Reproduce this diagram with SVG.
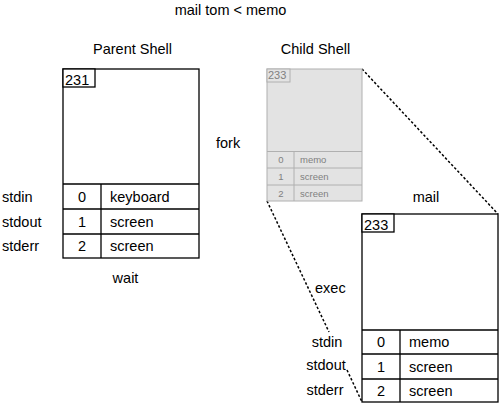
<svg xmlns="http://www.w3.org/2000/svg" width="500" height="403" viewBox="0 0 500 403">
<style>
text{font-family:"Liberation Sans",Arial,sans-serif;font-size:14.5px;fill:#000}
.m{text-anchor:middle}
.box{fill:#fff;stroke:#000;stroke-width:1.3}
.gbox{fill:#e3e3e3;stroke:#b0b0b0;stroke-width:1}
.g{font-size:9.5px;fill:#808080}
.dash{fill:none;stroke:#000;stroke-width:1.5;stroke-dasharray:2.5 2}
</style>
<rect width="500" height="403" fill="#fff"/>
<text class="m" x="230.5" y="15">mail tom &lt; memo</text>
<g id="connectors">
<line class="dash" x1="362" y1="69" x2="498" y2="214"/>
<line class="dash" x1="267" y1="201" x2="329" y2="332"/>
<line class="dash" x1="347" y1="370" x2="362" y2="402"/>
</g>
<g id="parent">
<text class="m" x="132.5" y="54">Parent Shell</text>
<rect class="box" x="63" y="69" width="136" height="189"/>
<rect class="box" x="63" y="69" width="32" height="18"/>
<text x="65" y="85">231</text>
<line class="box" x1="63" y1="184" x2="199" y2="184"/>
<line class="box" x1="63" y1="209" x2="199" y2="209"/>
<line class="box" x1="63" y1="234" x2="199" y2="234"/>
<line class="box" x1="101" y1="184" x2="101" y2="258"/>
<text class="m" x="82" y="202">0</text>
<text class="m" x="82" y="227">1</text>
<text class="m" x="82" y="251">2</text>
<text x="110" y="202">keyboard</text>
<text x="110" y="227">screen</text>
<text x="110" y="251">screen</text>
<text x="2" y="202">stdin</text>
<text x="2" y="227">stdout</text>
<text x="2" y="251">stderr</text>
<text class="m" x="125.5" y="283">wait</text>
</g>
<text id="fork" x="216" y="148">fork</text>
<g id="child">
<text class="m" x="315.5" y="54">Child Shell</text>
<rect class="gbox" x="267" y="69" width="95" height="132"/>
<rect class="gbox" x="267" y="69" width="23" height="13"/>
<text class="g" x="268" y="79" style="font-size:11px">233</text>
<line class="gbox" x1="267" y1="151.5" x2="362" y2="151.5"/>
<line class="gbox" x1="267" y1="168" x2="362" y2="168"/>
<line class="gbox" x1="267" y1="185" x2="362" y2="185"/>
<line class="gbox" x1="294" y1="151.5" x2="294" y2="201"/>
<text class="g m" x="281" y="163">0</text>
<text class="g m" x="281" y="180">1</text>
<text class="g m" x="281" y="197">2</text>
<text class="g" x="300" y="163">memo</text>
<text class="g" x="300" y="180">screen</text>
<text class="g" x="300" y="197">screen</text>
</g>
<text id="exec" x="315" y="293">exec</text>
<g id="mail">
<text class="m" x="426" y="202">mail</text>
<rect class="box" x="362" y="214" width="136" height="188"/>
<rect class="box" x="362" y="214" width="32" height="18"/>
<text x="364" y="230">233</text>
<line class="box" x1="362" y1="330" x2="498" y2="330"/>
<line class="box" x1="362" y1="354" x2="498" y2="354"/>
<line class="box" x1="362" y1="379" x2="498" y2="379"/>
<line class="box" x1="400" y1="330" x2="400" y2="402"/>
<text class="m" x="381" y="347">0</text>
<text class="m" x="381" y="372">1</text>
<text class="m" x="381" y="396">2</text>
<text x="409" y="347">memo</text>
<text x="409" y="372">screen</text>
<text x="409" y="396">screen</text>
<text class="m" x="327" y="347">stdin</text>
<text class="m" x="326" y="370">stdout</text>
<text class="m" x="325" y="395">stderr</text>
</g>
</svg>
